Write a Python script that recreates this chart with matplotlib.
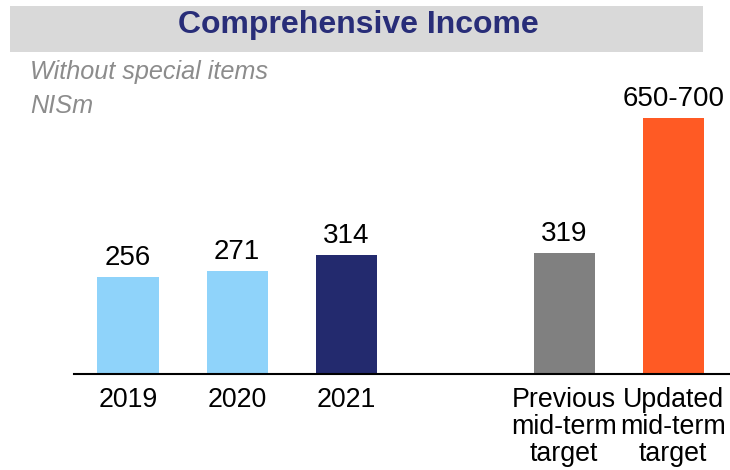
import numpy as np
import matplotlib.pyplot as plt
from matplotlib.patches import Rectangle

plt.rcParams['font.family'] = ['Liberation Sans', 'DejaVu Sans']

# Comprehensive income, NISm (without special items)
categories = ['2019', '2020', '2021', 'Previous\nmid-term\ntarget', 'Updated\nmid-term\ntarget']
positions = [0, 1, 2, 4, 5]
values = [256, 271, 314, 319]
target_range = (650, 700)
value_labels = ['256', '271', '314', '319', '650-700']
colors = ['#8fd3fa', '#8fd3fa', '#232a6e', '#808080', '#ff5a24']

heights = values + [np.mean(target_range)]

fig = plt.figure(figsize=(7.3, 4.7), dpi=100)

# grey title banner
fig.patches.append(Rectangle((10 / 730, 1 - 52 / 470), 693 / 730, 46 / 470,
                             transform=fig.transFigure, facecolor='#d9d9d9',
                             edgecolor='none', zorder=0))
fig.text(358 / 730, 1 - 33 / 470, 'Comprehensive Income', ha='center', va='baseline',
         fontsize=23, fontweight='bold', color='#282d78')
fig.text(30 / 730, 1 - 72 / 470, 'Without special items', ha='left', va='center',
         fontsize=18.2, style='italic', color='#8c8c8c')
fig.text(30 / 730, 1 - 106 / 470, 'NISm', ha='left', va='center',
         fontsize=18.2, style='italic', color='#8c8c8c')

ax = fig.add_axes([74 / 730, 96 / 470, 656 / 730, 314 / 470])
ax.bar(positions, heights, width=0.56, color=colors)

for x, h, lab in zip(positions, heights, value_labels):
    ax.annotate(lab, (x, h), xytext=(0, 8.5), textcoords='offset points',
                ha='center', va='baseline', fontsize=20, color='#000000')

ax.set_xlim(-0.495, 5.52)
ax.set_ylim(0, 828)
ax.set_xticks(positions)
ax.set_xticklabels(categories, fontsize=19.3, linespacing=1.05, va='top')
ax.tick_params(axis='x', length=0, pad=9.5)
ax.set_yticks([])
for side in ['top', 'left', 'right']:
    ax.spines[side].set_visible(False)
ax.spines['bottom'].set_linewidth(1.5)
ax.patch.set_alpha(0)

fig.savefig('out.png', dpi=100)
